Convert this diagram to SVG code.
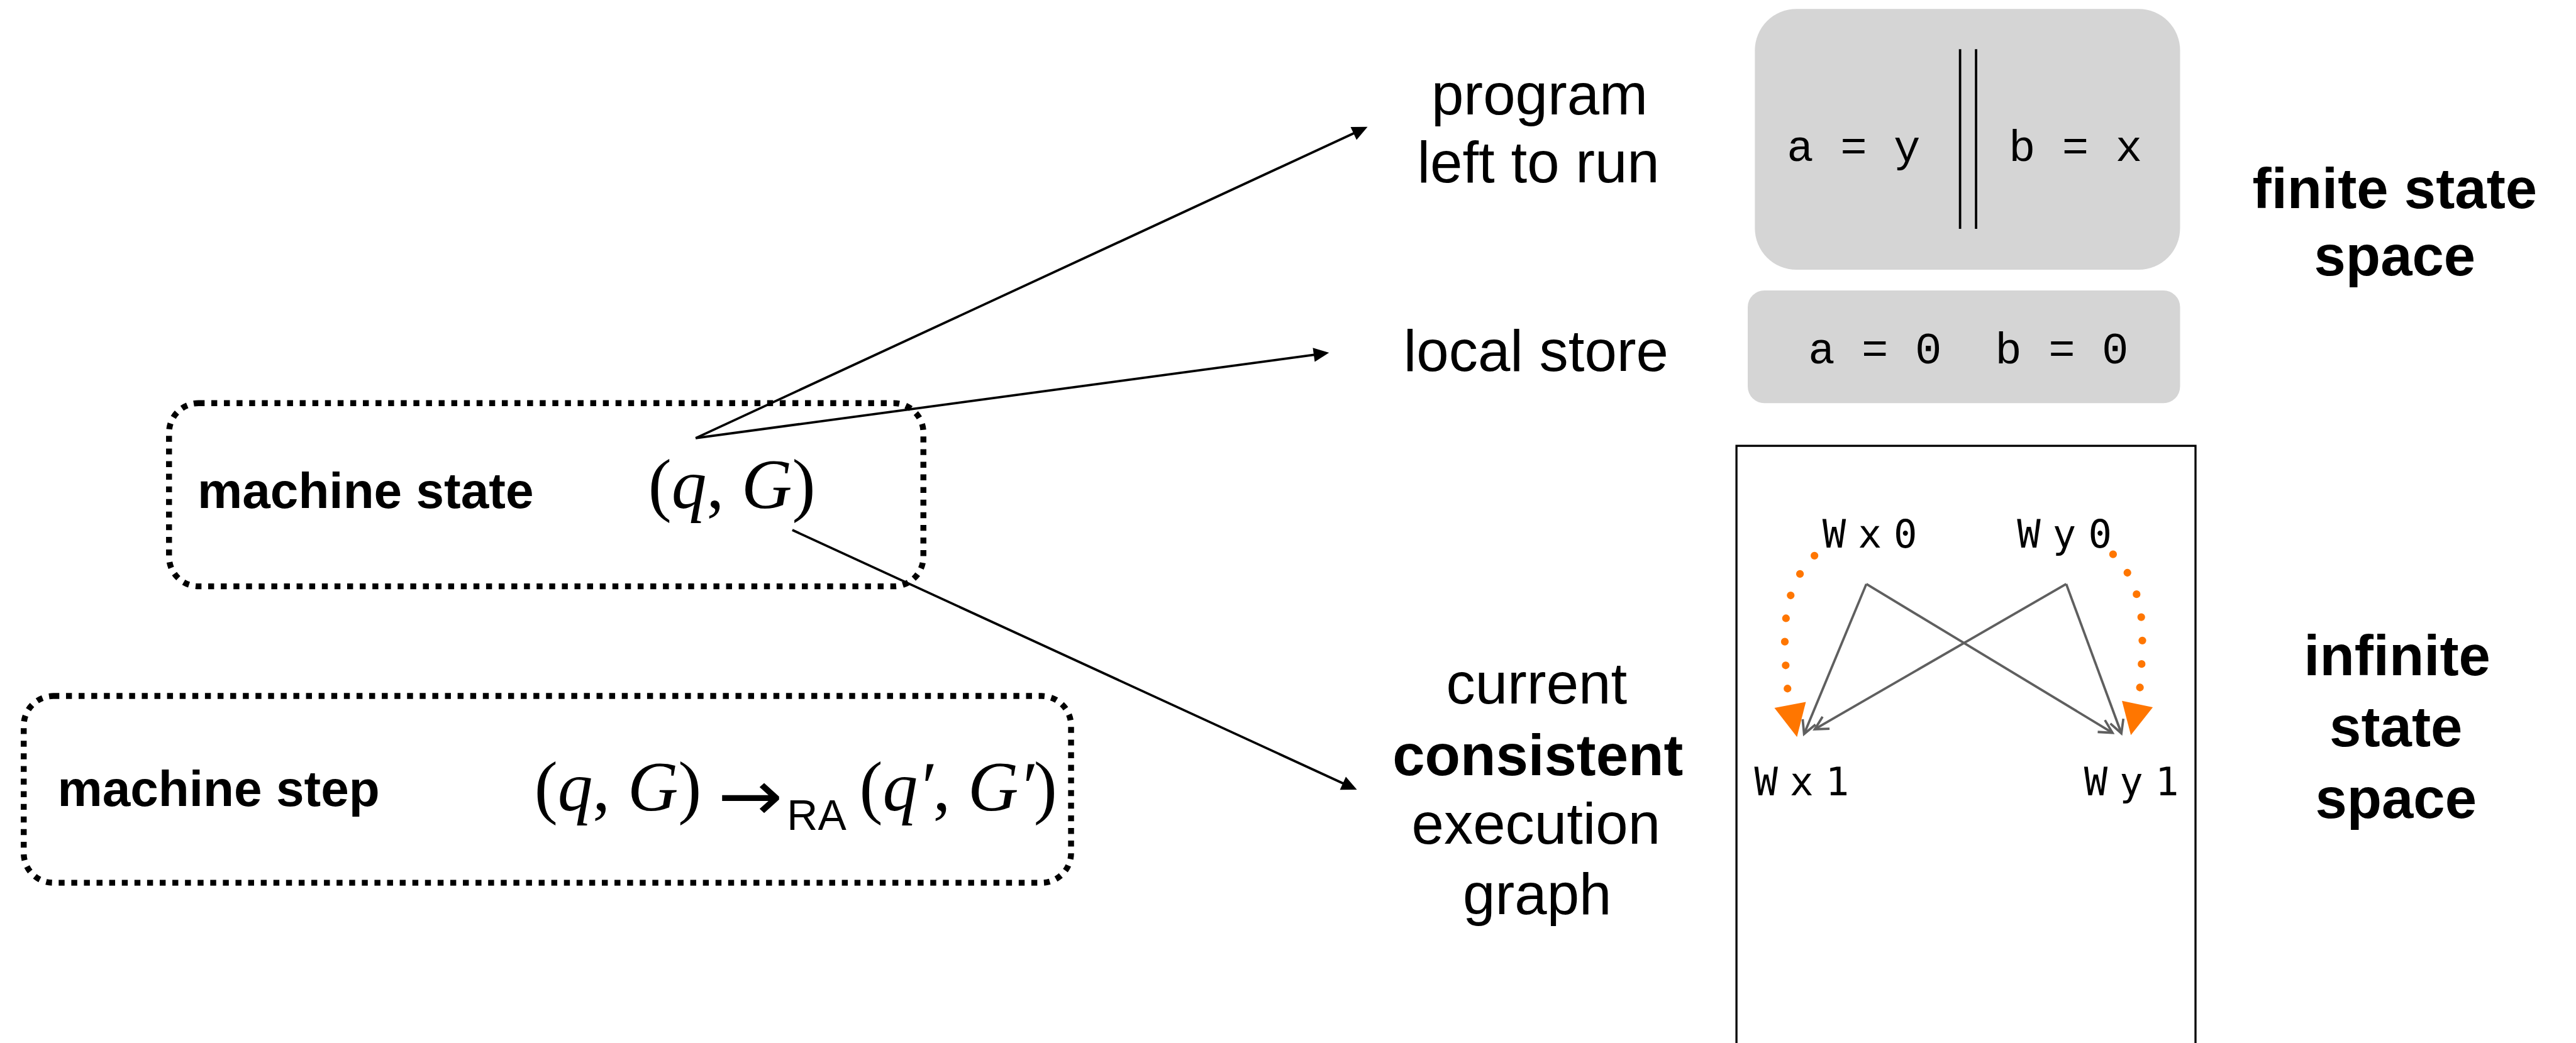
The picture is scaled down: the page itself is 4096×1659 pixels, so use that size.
<svg xmlns="http://www.w3.org/2000/svg" width="4096" height="1659" viewBox="0 0 4096 1659">
<defs>
<style>
.sans{font-family:"Liberation Sans",Arial,sans-serif;fill:#000}
.lbl{font-size:98px}
.bold{font-weight:bold;font-size:96px}
.side{font-weight:bold;font-size:85px}
.math{font-family:"Liberation Serif","Times New Roman",serif;font-size:118px;fill:#000}
.it{font-style:italic}
.arrowsym{font-family:"DejaVu Sans",sans-serif;font-size:118px;fill:#000}
.code{font-family:"Liberation Mono","Courier New",monospace;font-size:75px;fill:#000;white-space:pre}
.ev{font-family:"DejaVu Sans Mono",monospace;font-size:66px;fill:#000;letter-spacing:-9.7px;white-space:pre}
.dotbox{fill:none;stroke:#000;stroke-width:10;stroke-dasharray:10 11.3}
.gray{fill:#d5d5d5}
.conn{fill:none;stroke:#000;stroke-width:4}
.edge{fill:none;stroke:#5f5f5f;stroke-width:4}
.mo{fill:none;stroke:#ff7600;stroke-width:13;stroke-linecap:round;stroke-dasharray:0 39.5}
</style>
<marker id="ah" markerUnits="userSpaceOnUse" viewBox="-30 -16 32 32" refX="-8" refY="0" markerWidth="32" markerHeight="32" orient="auto" overflow="visible">
<path d="M0,0 L-26,-12 L-26,12 Z" fill="#000"/>
</marker>
<marker id="gh" markerUnits="userSpaceOnUse" viewBox="-26 -16 30 32" refX="0" refY="0" markerWidth="30" markerHeight="32" orient="auto" overflow="visible">
<path d="M-22,-11.7 L0,0 L-22,11.7" fill="none" stroke="#5f5f5f" stroke-width="4"/>
</marker>
</defs>
<rect width="4096" height="1659" fill="#fff"/>
<g transform="scale(0.943)">

<g id="machine-state">
<rect class="dotbox" x="285" y="680" width="1272" height="309" rx="50" ry="50"/>
<text class="sans side" x="333" y="857">machine state</text>
<text class="math" x="1093" y="857">(<tspan class="it">q</tspan>, <tspan class="it">G</tspan>)</text>
</g>

<g id="machine-step">
<rect class="dotbox" x="40" y="1174" width="1766" height="315" rx="50" ry="50"/>
<text class="sans side" x="97" y="1359">machine step</text>
<text class="math" x="901" y="1367">(<tspan class="it">q</tspan>, <tspan class="it">G</tspan>)</text>
<text class="arrowsym" x="1210" y="1383" textLength="110" lengthAdjust="spacingAndGlyphs">→</text>
<text class="sans" x="1327" y="1400" font-size="72">RA</text>
<text class="math" x="1449" y="1367">(<tspan class="it">q′</tspan>, <tspan class="it">G′</tspan>)</text>
</g>

<g id="program-label">
<text class="sans lbl" text-anchor="middle"><tspan x="2596" y="193">program</tspan><tspan x="2594" y="308">left to run</tspan></text>
</g>

<g id="program-box">
<rect class="gray" x="2959" y="15" width="717" height="440" rx="70" ry="70"/>
<text class="code" x="3013" y="272">a = y</text>
<line x1="3305" y1="83" x2="3305" y2="386" stroke="#000" stroke-width="4"/>
<line x1="3332" y1="83" x2="3332" y2="386" stroke="#000" stroke-width="4"/>
<text class="code" x="3387" y="272">b = x</text>
</g>

<g id="local-store-label">
<text class="sans lbl" x="2590" y="626" text-anchor="middle">local store</text>
</g>

<g id="local-store-box">
<rect class="gray" x="2947" y="490" width="729" height="190" rx="28" ry="28"/>
<text class="code" x="3049" y="613">a = 0  b = 0</text>
</g>

<g id="finite-label">
<text class="sans bold" text-anchor="middle"><tspan x="4038" y="351">finite state</tspan><tspan x="4038" y="464">space</tspan></text>
</g>

<g id="graph-label">
<text class="sans lbl" text-anchor="middle"><tspan x="2591" y="1187">current</tspan><tspan x="2593" y="1308" font-weight="bold">consistent</tspan><tspan x="2590" y="1423">execution</tspan><tspan x="2592" y="1542">graph</tspan></text>
</g>

<g id="infinite-label">
<text class="sans bold" text-anchor="middle"><tspan x="4042" y="1139">infinite</tspan><tspan x="4040" y="1259">state</tspan><tspan x="4040" y="1380">space</tspan></text>
</g>

<g id="execution-graph">
<rect x="2928" y="752" width="774" height="1100" fill="none" stroke="#000" stroke-width="3.5"/>
<g id="ev-wx0"><text class="ev" x="3073" y="924">W x 0</text></g>
<g id="ev-wy0"><text class="ev" x="3401" y="924">W y 0</text></g>
<g id="ev-wx1"><text class="ev" x="2958" y="1341">W x 1</text></g>
<g id="ev-wy1"><text class="ev" x="3514" y="1341">W y 1</text></g>
</g>

<g id="connectors">
<line class="conn" x1="1173" y1="739" x2="2298.7" y2="217.4" marker-end="url(#ah)"/>
<line class="conn" x1="1173" y1="739" x2="2233.1" y2="596.1" marker-end="url(#ah)"/>
<line class="conn" x1="1336" y1="894" x2="2280.7" y2="1328.7" marker-end="url(#ah)"/>
<line class="edge" x1="3147" y1="985" x2="3042" y2="1238" marker-end="url(#gh)"/>
<line class="edge" x1="3484" y1="985" x2="3060" y2="1230" marker-end="url(#gh)"/>
<line class="edge" x1="3147" y1="985" x2="3562" y2="1236" marker-end="url(#gh)"/>
<line class="edge" x1="3484" y1="985" x2="3577" y2="1237" marker-end="url(#gh)"/>
<path class="mo" d="M3059.5,937.3 C3025,970 3008,1020 3009.6,1086.4 C3010.5,1120 3012,1145 3014.7,1167"/>
<polygon points="2992,1194 3045,1184 3030,1243" fill="#ff7600"/>
<path class="mo" d="M3563,935 C3597,968 3614,1018 3612.3,1084.4 C3611.5,1120 3610,1145 3607.7,1165"/>
<polygon points="3578,1182 3630,1193 3593,1240" fill="#ff7600"/>
</g>

</g>
</svg>
